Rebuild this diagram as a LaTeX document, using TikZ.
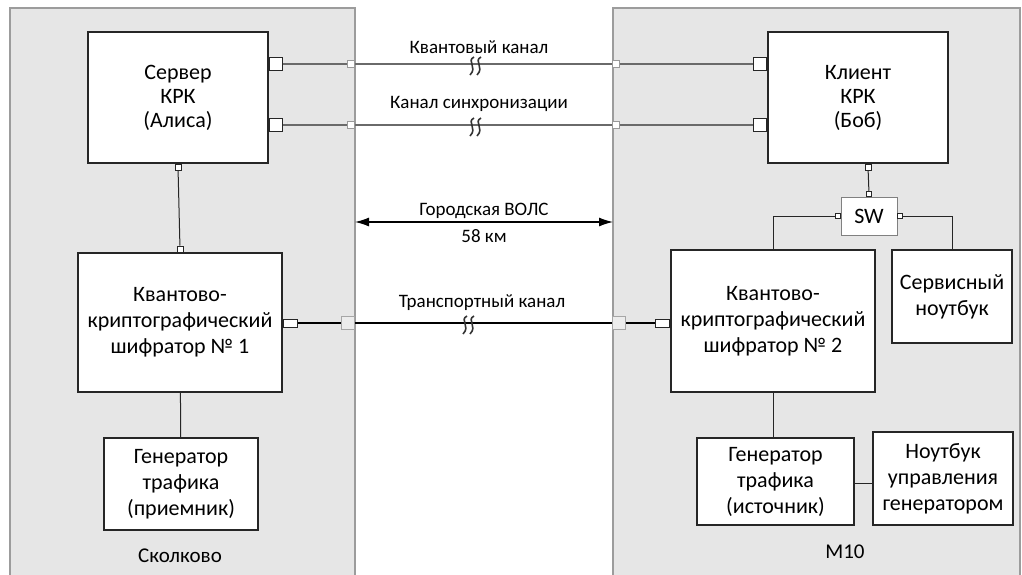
\documentclass[tikz,border=0pt]{standalone}
\usepackage{fontspec}
\setmainfont{Carlito}
\usetikzlibrary{positioning,arrows.meta}
\definecolor{zonefill}{HTML}{E6E6E6}
\definecolor{zoneline}{HTML}{9C9C9C}
\definecolor{chanline}{HTML}{6A6A6A}

\begin{document}
\begin{tikzpicture}[
    x=1pt, y=-1pt,
    box/.style={draw=black!85, line width=1.1pt, fill=white, align=center, inner sep=0pt, font=\fontsize{22}{26}\selectfont},
    tightbox/.style={box, font=\fontsize{22}{24}\selectfont},
    port/.style={draw=black!85, line width=1pt, fill=white, minimum size=13pt, inner sep=0pt},
    tinyport/.style={draw=black!85, line width=0.8pt, fill=white, minimum size=6pt, inner sep=0pt},
    flatport/.style={draw=black!85, line width=1pt, fill=white, minimum width=14pt, minimum height=8pt, inner sep=0pt},
    joint/.style={draw=gray!80, line width=0.8pt, fill=white, minimum size=7pt, inner sep=0pt},
    bigjoint/.style={draw=gray!70, line width=0.8pt, fill=gray!15, minimum size=13pt, inner sep=0pt},
    chan/.style={draw=chanline, line width=1.8pt},
    trunk/.style={draw=black, line width=1.8pt},
    wire/.style={draw=black!85, line width=1pt},
    lbl/.style={font=\fontsize{19}{22}\selectfont},
    zone/.style={fill=zonefill},
    zoneedge/.style={draw=zoneline, line width=1.4pt},
    brk/.pic={
        \draw[line width=1.6pt, black!80] (0,-9) .. controls (-8,-5) and (4,1) .. (-4,9);
        \draw[line width=1.6pt, black!80] (7,-9) .. controls (-1,-5) and (11,1) .. (3,9);
    },
]
\useasboundingbox (0,0) rectangle (1022,574);

% Sites
\fill[zone] (10,8) rectangle (355,580);
\draw[zoneedge] (10,580) -- (10,8) -- (355,8) -- (355,580);
\fill[zone] (613,8) rectangle (1020,580);
\draw[zoneedge] (613,580) -- (613,8) -- (1020,8) -- (1020,580);

% Skolkovo side
\node[tightbox, minimum width=180pt, minimum height=131pt] (srv) at (178,97.5) {Сервер\\КРК\\(Алиса)};
\node[box, minimum width=204pt, minimum height=139pt] (enc1) at (180,322.5) {Квантово-\\криптографический\\шифратор № 1};
\node[box, minimum width=154pt, minimum height=92pt] (gen1) at (181,484) {Генератор\\трафика\\(приемник)};

% M10 side
\node[tightbox, minimum width=180pt, minimum height=131pt] (cli) at (858,97.5) {Клиент\\КРК\\(Боб)};
\node[box, minimum width=56pt, minimum height=38pt, draw=black!50, line width=0.9pt] (sw) at (869,216) {SW};
\node[box, minimum width=204pt, minimum height=142pt] (enc2) at (773,321) {Квантово-\\криптографический\\шифратор № 2};
\node[box, minimum width=120pt, minimum height=93pt] (svc) at (952,296.5) {Сервисный\\ноутбук};
\node[box, minimum width=157pt, minimum height=87pt] (gen2) at (775.5,481.5) {Генератор\\трафика\\(источник)};
\node[box, minimum width=140pt, minimum height=93pt] (ntb) at (943,478.5) {Ноутбук\\управления\\генератором};

% Ports
\node[port, anchor=west] (srvq) at (srv.east |- 0,64) {};
\node[port, anchor=west] (srvs) at (srv.east |- 0,125) {};
\node[port, anchor=east] (cliq) at (cli.west |- 0,64) {};
\node[port, anchor=east] (clis) at (cli.west |- 0,125) {};
\node[tinyport, anchor=north] (srvb) at (srv.south) {};
\node[tinyport, anchor=south] (enc1t) at (enc1.north) {};
\node[tinyport, anchor=north] (clib) at ([xshift=10pt]cli.south) {};
\node[tinyport, minimum size=5pt, anchor=south] (swt) at (sw.north) {};
\node[tinyport, minimum size=5pt, anchor=east] (swl) at (sw.west) {};
\node[tinyport, minimum size=5pt, anchor=west] (swr) at (sw.east) {};
\node[flatport, anchor=west] (enc1r) at (enc1.east |- 0,323) {};
\node[flatport, anchor=east] (enc2l) at (enc2.west |- 0,323) {};

% Line joints at the site edges
\node[joint] (qa) at (351,64) {};
\node[joint] (qb) at (616,64) {};
\node[joint] (sa) at (351,125) {};
\node[joint] (sb) at (616,125) {};
\node[bigjoint] (ta) at (348,323) {};
\node[bigjoint] (tb) at (619,323) {};
\coordinate (fibA) at (355,222);
\coordinate (fibB) at (613,222);

% Channels
\draw[chan] (srvq) -- (qa) -- (qb) -- (cliq);
\draw[chan] (srvs) -- (sa) -- (sb) -- (clis);
\draw[trunk] (enc1r) -- (ta) -- (tb) -- (enc2l);
\pic at (474,66) {brk};
\pic at (474,127) {brk};
\pic at (467,325) {brk};
\node[lbl] (qlbl) at (479,47) {Квантовый канал};
\node[lbl] (slbl) at (479,104) {Канал синхронизации};
\node[lbl] (tlbl) at (482,303) {Транспортный канал};

% City fibre
\draw[line width=1.2pt, {Latex[length=14pt,width=9pt]}-{Latex[length=14pt,width=9pt]}] (fibA) -- (fibB);
\node[lbl] (flbl) at (484,211) {Городская ВОЛС};
\node[lbl] (dlbl) at (484,236) {58 км};

% Local wiring
\draw[wire] (srvb) -- (enc1t);
\draw[wire] (enc1) -- (gen1);
\draw[wire] (clib) -- (swt);
\draw[wire] (swl.west) -| (enc2.north);
\draw[wire] (swr.east) -| (svc.north);
\draw[wire] (enc2.south) -- (enc2.south |- gen2.north);
\draw[wire] (gen2.east |- 0,483) -- (ntb.west |- 0,483);

% Site names
\node[font=\fontsize{21}{24}\selectfont] (skl) at (180,556) {Сколково};
\node[font=\fontsize{21}{24}\selectfont] (mten) at (845,552) {М10};
\end{tikzpicture}
\end{document}
